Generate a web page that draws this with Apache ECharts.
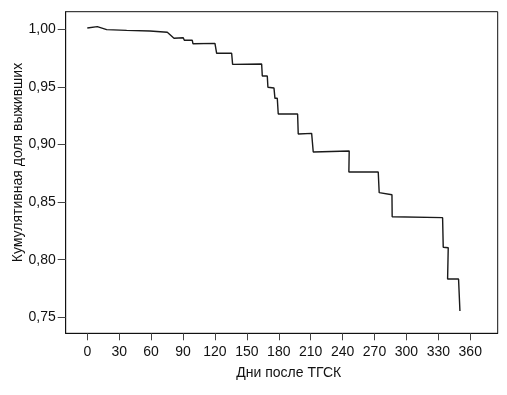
<!DOCTYPE html>
<html>
<head>
<meta charset="utf-8">
<script src="https://cdn.jsdelivr.net/npm/echarts@6/dist/echarts.min.js"></script>
<style>
html,body{margin:0;padding:0;background:#fff;}
#chart{width:507px;height:395px;}
</style>
</head>
<body>
<div id="chart"></div>
<script>
// Survival curve vertices (days after HSCT, cumulative survival)
var days = [0, 9.4, 18.2, 37.0, 58.9, 75.2, 81.5, 90.2, 91.2, 98.7, 99.3, 120.0, 121.6, 135.7, 136.6,
  163.9, 164.5, 169.2, 169.8, 175.5, 176.4, 178.6, 179.5, 197.7, 198.3, 210.9, 212.4, 246.2, 245.9,
  273.5, 274.4, 286.4, 286.6, 334.0, 334.6, 339.3, 338.7, 349.0, 350.3];
var survival = [1.0011, 1.0023, 0.9997, 0.9991, 0.9985, 0.9974, 0.9922, 0.9927, 0.9905, 0.9905, 0.9875,
  0.9878, 0.9792, 0.9792, 0.9696, 0.9699, 0.9595, 0.9595, 0.9497, 0.9490, 0.9401, 0.9401, 0.9265,
  0.9265, 0.9091, 0.9097, 0.8935, 0.8944, 0.8761, 0.8761, 0.8582, 0.8564, 0.8373, 0.8365, 0.8108,
  0.8104, 0.7833, 0.7833, 0.7555];
var xTicks = [0, 30, 60, 90, 120, 150, 180, 210, 240, 270, 300, 330, 360];
var yTicks = [0.75, 0.80, 0.85, 0.90, 0.95, 1.00];
var xTitle = 'Дни после ТГСК';
var yTitle = 'Кумулятивная доля выживших';

var pts = days.map(function (d, i) { return [d, survival[i]]; });
var font = 'Liberation Sans, Arial, sans-serif';
var chart = echarts.init(document.getElementById('chart'), null, {renderer: 'canvas'});
chart.setOption({
  animation: false,
  backgroundColor: '#fff',
  grid: {left: 65.7, right: 9.3, top: 11.7, bottom: 61.7, show: true, borderColor: '#111', borderWidth: 1,
    containLabel: false, outerBoundsMode: 'none'},
  xAxis: {
    type: 'value', min: -20.3, max: 385.8,
    name: xTitle, nameLocation: 'middle', nameGap: 33,
    nameTextStyle: {fontFamily: font, fontSize: 14, color: '#111', padding: [0, 0, 0, 14]},
    axisLine: {show: true, onZero: false, lineStyle: {color: '#111', width: 1}},
    axisTick: {show: true, length: 7, customValues: xTicks, lineStyle: {color: '#444', width: 1}},
    axisLabel: {customValues: xTicks, fontFamily: font, fontSize: 14, color: '#111', margin: 12},
    splitLine: {show: false}
  },
  yAxis: {
    type: 'value', min: 0.7361, max: 1.0153,
    name: yTitle, nameLocation: 'middle', nameGap: 41, nameRotate: 90, nameMoveOverlap: false,
    nameTextStyle: {fontFamily: font, fontSize: 14, color: '#111', padding: [0, 0, 0, 20]},
    axisLine: {show: true, onZero: false, lineStyle: {color: '#111', width: 1}},
    axisTick: {show: true, length: 8, customValues: yTicks, lineStyle: {color: '#444', width: 1}},
    axisLabel: {customValues: yTicks, fontFamily: font, fontSize: 14, color: '#111', margin: 10,
      formatter: function (v) { return v.toFixed(2).replace('.', ','); }},
    splitLine: {show: false}
  },
  series: [{
    type: 'line', data: pts, showSymbol: false, symbol: 'none', smooth: false,
    lineStyle: {color: '#1a1a1a', width: 1.4}, silent: true
  }]
});
</script>
</body>
</html>
